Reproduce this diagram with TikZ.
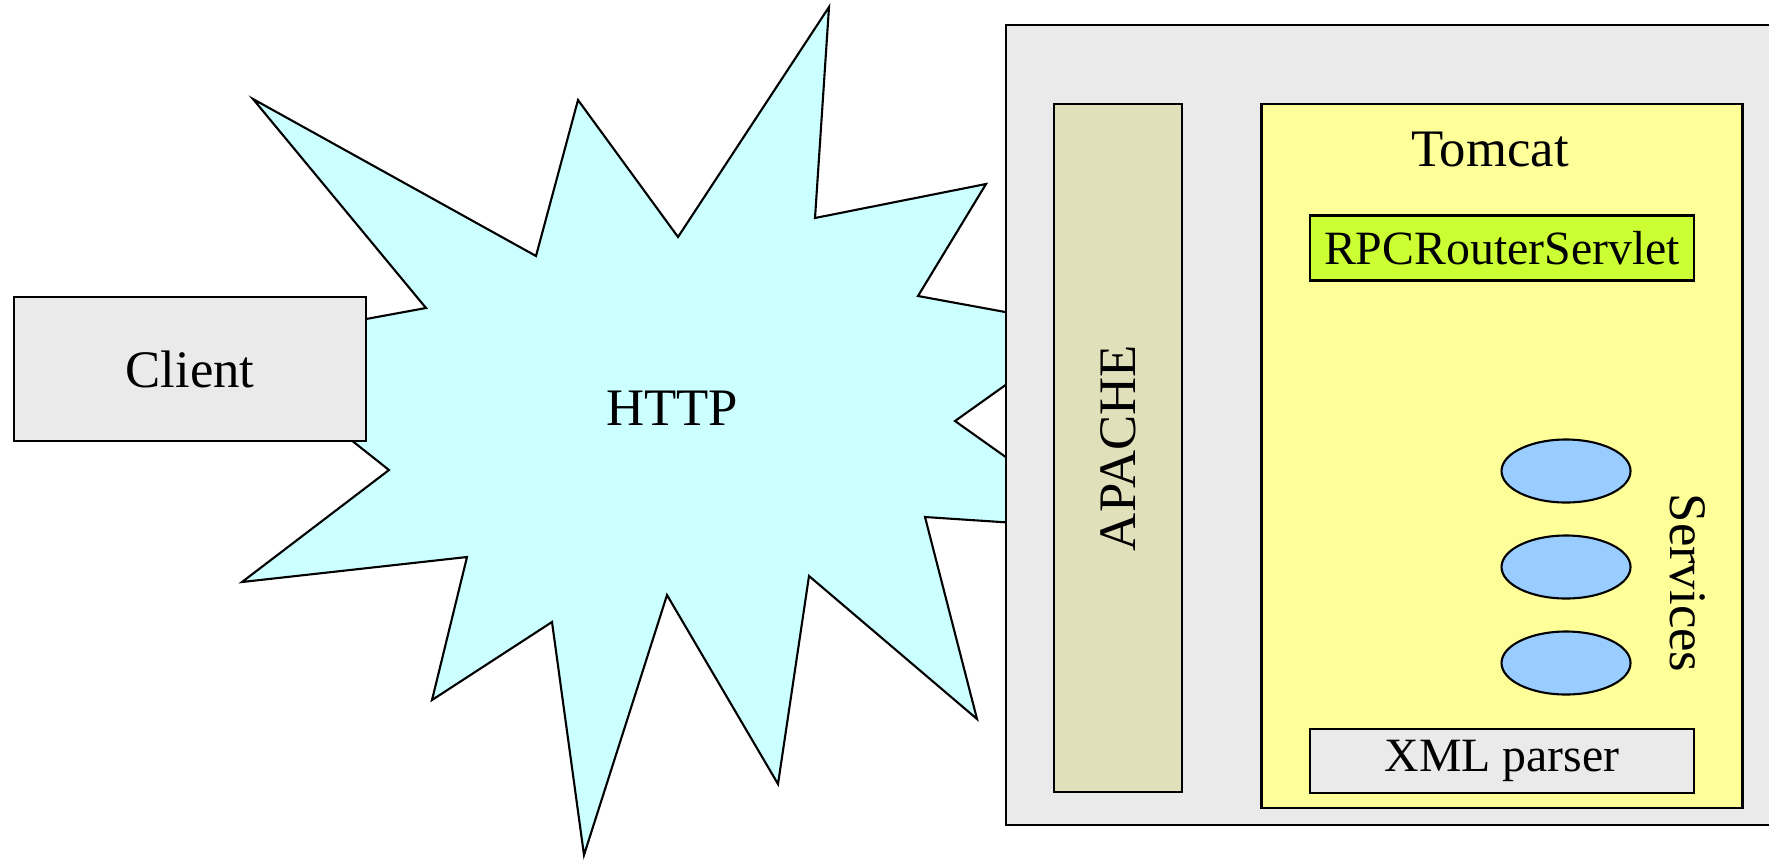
\documentclass[tikz,border=0pt]{standalone}
\usepackage{fontspec}
\setmainfont{Liberation Serif}
\usetikzlibrary{shapes.geometric,positioning}
\definecolor{boxgrey}{RGB}{234,234,234}
\definecolor{cloud}{RGB}{204,255,255}
\definecolor{apachecol}{RGB}{224,224,186}
\definecolor{tomcatcol}{RGB}{255,255,153}
\definecolor{rpccol}{RGB}{204,255,51}
\definecolor{svcblue}{RGB}{153,204,255}

\begin{document}
\begin{tikzpicture}[x=0.1mm,y=-0.1mm,line width=0.6pt,node distance=0.96cm,
  box/.style={draw,rectangle,inner sep=0pt},
  grey/.style={box,fill=boxgrey},
  svc/.style={draw,ellipse,fill=svcblue,minimum width=1.29cm,minimum height=0.63cm,inner sep=0pt},
  big/.style={font=\fontsize{15}{18}\selectfont},
  small/.style={font=\fontsize{13.6}{16}\selectfont}]
\useasboundingbox (0,0) rectangle (1769,859);

\filldraw[fill=cloud] (253,99) -- (536,256) -- (578,100) -- (678,237) -- (829,7) -- (815,218)
  -- (986,184) -- (918,296) -- (1087,327) -- (955,421) -- (1107,529) -- (925,517) -- (977,719)
  -- (809,576) -- (778,784) -- (667,595) -- (584,855) -- (552,622) -- (432,700) -- (467,557)
  -- (242,582) -- (389,470) -- (230,344) -- (426,308) -- cycle;
\node[big] (http) at (672,408) {HTTP};

\node[grey,big,minimum width=3.52cm,minimum height=1.44cm] (client) at (190,369) {Client};

\node[grey,minimum width=7.74cm,minimum height=8cm] (server) at (1393,425) {};
\node[box,fill=apachecol,big,rotate=90,minimum width=6.88cm,minimum height=1.28cm] (apache) at (1118,448) {APACHE};
\node[box,fill=tomcatcol,minimum width=4.81cm,minimum height=7.04cm] (tomcat) at (1502,456) {};
\node[big] (tomcatlabel) at (1490,149) {Tomcat};
\node[box,fill=rpccol,small,minimum width=3.84cm,minimum height=0.65cm] (rpc) at (1502,248) {RPCRouterServlet};
\node[grey,small,minimum width=3.84cm,minimum height=0.64cm] (xml) at (1502,761) {XML parser};

\node[svc] (s1) at (1566,471) {};
\node[svc] (s2) [below of=s1] {};
\node[svc] (s3) [below of=s2] {};
\node[big,rotate=-90] (services) at (1688,583) {Services};
\end{tikzpicture}
\end{document}
